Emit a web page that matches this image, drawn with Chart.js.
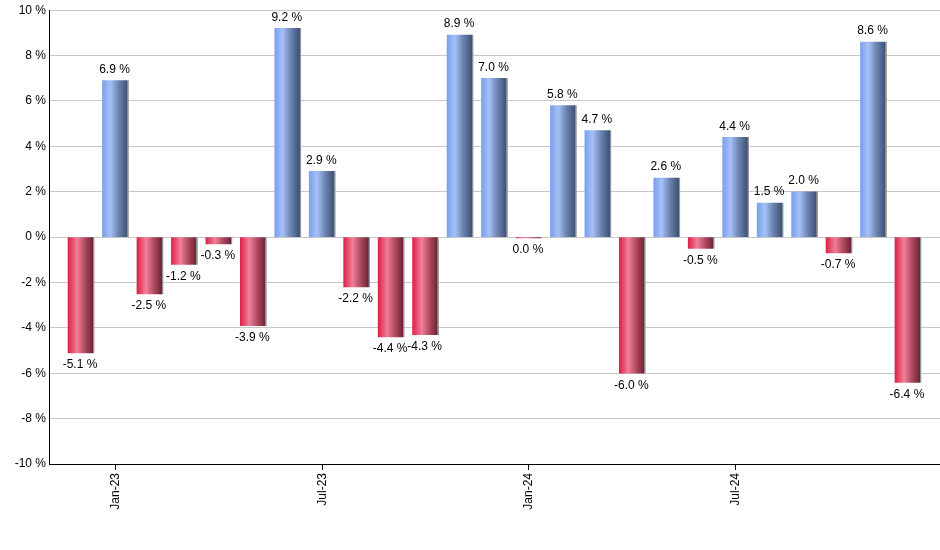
<!DOCTYPE html>
<html>
<head>
<meta charset="utf-8">
<script src="https://cdn.jsdelivr.net/npm/chart.js@4"></script>
<style>
html,body{margin:0;padding:0;background:#fff;}
#wrap{width:940px;height:550px;position:relative;}
</style>
</head>
<body>
<div id="wrap"><canvas id="c" width="940" height="550"></canvas></div>
<script>
// Months (Dec-22 .. Dec-24)
const months = ["Dec-22","Jan-23","Feb-23","Mar-23","Apr-23","May-23","Jun-23","Jul-23","Aug-23","Sep-23","Oct-23","Nov-23","Dec-23","Jan-24","Feb-24","Mar-24","Apr-24","May-24","Jun-24","Jul-24","Aug-24","Sep-24","Oct-24","Nov-24","Dec-24"];
// Monthly returns in percent
const returns = [-5.1, 6.9, -2.5, -1.2, -0.3, -3.9, 9.2, 2.9, -2.2, -4.4, -4.3, 8.9, 7.0, -0.04, 5.8, 4.7, -6.0, 2.6, -0.5, 4.4, 1.5, 2.0, -0.7, 8.6, -6.4];
// Which month labels are shown on the x axis
const shownTicks = ["Jan-23","Jul-23","Jan-24","Jul-24"];
const yTicks = [-10,-8,-6,-4,-2,0,2,4,6,8,10];

const FONT = '"Liberation Sans", Arial, sans-serif';
const BAR_W = 26;

function fmt(v){ return (Math.round(v*10)/10 + 0).toFixed(1) + " %"; }

function barFill(c){
  const chart = c.chart;
  const xs = chart.scales.x;
  const v = returns[c.dataIndex];
  const pos = v >= 0;
  if (!xs || c.dataIndex === undefined || !isFinite(xs.getPixelForValue(c.dataIndex))) return pos ? "#7f9fe0" : "#c8304f";
  const cx = xs.getPixelForValue(c.dataIndex);
  const g = chart.ctx.createLinearGradient(cx - BAR_W/2, 0, cx + BAR_W/2, 0);
  if (pos){
    g.addColorStop(0, "#7a9fee");
    g.addColorStop(0.3, "#a6c1f6");
    g.addColorStop(0.6, "#6f86b4");
    g.addColorStop(0.95, "#3c5277");
    g.addColorStop(0.96, "#8a8a8a");
    g.addColorStop(1, "#9a9a9a");
  } else {
    g.addColorStop(0, "#dc2248");
    g.addColorStop(0.35, "#ef8099");
    g.addColorStop(0.65, "#b04a60");
    g.addColorStop(0.95, "#6c2536");
    g.addColorStop(0.96, "#8a8a8a");
    g.addColorStop(1, "#9a9a9a");
  }
  return g;
}

const valueLabels = {
  id: "valueLabels",
  afterDatasetsDraw(chart){
    const ctx = chart.ctx;
    const meta = chart.getDatasetMeta(0);
    ctx.save();
    ctx.font = "12px " + FONT;
    ctx.fillStyle = "#000";
    ctx.textAlign = "center";
    ctx.textBaseline = "middle";
    meta.data.forEach((el, i) => {
      const v = returns[i];
      const y = v >= 0 ? el.y - 11 : el.y + 12;
      ctx.fillText(fmt(v), el.x - 1, y);
    });
    ctx.restore();
  }
};

new Chart(document.getElementById("c"), {
  type: "bar",
  data: {
    datasets: [{
      data: returns.map((v, i) => ({x: i, y: v})),
      backgroundColor: barFill,
      borderWidth: 0,
      barThickness: BAR_W
    }]
  },
  options: {
    responsive: false,
    animation: false,
    devicePixelRatio: 1,
    layout: { padding: { top: 9, right: 0, left: 0, bottom: 0 } },
    plugins: { legend: { display: false }, tooltip: { enabled: false } },
    scales: {
      x: {
        type: "linear",
        min: -0.93,
        max: 24.93,
        offset: false,
        afterBuildTicks(scale){
          scale.ticks = shownTicks.map(m => ({ value: months.indexOf(m) }));
        },
        afterFit(scale){ scale.height = 86; },
        ticks: {
          autoSkip: false,
          minRotation: 90,
          maxRotation: 90,
          padding: 3,
          color: "#000",
          font: { family: FONT, size: 12 },
          callback: (v) => months[v]
        },
        grid: { offset: false, drawOnChartArea: false, drawTicks: true, tickLength: 6, color: "#000" },
        border: { color: "#000", width: 1 }
      },
      y: {
        min: -10,
        max: 10,
        afterBuildTicks(scale){
          scale.ticks = yTicks.map(v => ({ value: v }));
        },
        afterFit(scale){ scale.width = 49; },
        ticks: {
          padding: 3,
          color: "#000",
          font: { family: FONT, size: 12 },
          callback: (v) => v + " %"
        },
        grid: { color: "#c8c8c8", drawTicks: false },
        border: { color: "#000", width: 1 }
      }
    }
  },
  plugins: [valueLabels]
});
</script>
</body>
</html>
